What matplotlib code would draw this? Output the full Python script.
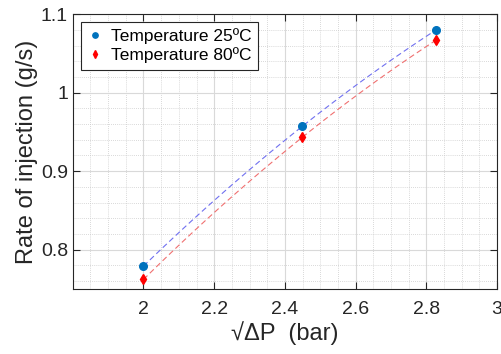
import numpy as np
import matplotlib.pyplot as plt
from matplotlib.ticker import MultipleLocator, FormatStrFormatter

plt.rcParams['font.family'] = ['Liberation Sans', 'DejaVu Sans']

# injection rate vs square root of pressure drop
sqrt_dp = np.array([2.0, 2.449, 2.828])
rate_25 = np.array([0.779, 0.957, 1.080])
rate_80 = np.array([0.762, 0.943, 1.067])

fig = plt.figure(figsize=(5.02, 3.54), dpi=100)
ax = fig.add_axes([0.145, 0.184, 0.845, 0.776])

# quadratic trend through each series
xx = np.linspace(sqrt_dp[0], sqrt_dp[-1], 100)
fit_25 = np.polyval(np.polyfit(sqrt_dp, rate_25, 2), xx)
fit_80 = np.polyval(np.polyfit(sqrt_dp, rate_80, 2), xx)
ax.plot(xx, fit_25, ls=(0, (5, 3)), color='#7070f0', lw=0.8)
ax.plot(xx, fit_80, ls=(0, (5, 3)), color='#f07070', lw=0.8)

ax.plot(sqrt_dp, rate_25, 'o', color='#0072BD', ms=5.5, label='Temperature 25ºC')
ax.plot(sqrt_dp, rate_80, 'd', color='#FF0000', ms=5.5, label='Temperature 80ºC')

ax.set_xlim(1.8, 3.0)
ax.set_ylim(0.75, 1.1)
ax.set_xticks([2, 2.2, 2.4, 2.6, 2.8, 3])
ax.set_yticks([0.8, 0.9, 1.0, 1.1])
ax.xaxis.set_major_formatter(FormatStrFormatter('%g'))
ax.yaxis.set_major_formatter(FormatStrFormatter('%g'))
ax.xaxis.set_minor_locator(MultipleLocator(0.05))
ax.yaxis.set_minor_locator(MultipleLocator(0.02))

ax.grid(True, which='major', color='#d9d9d9', lw=0.8, ls='-')
ax.grid(True, which='minor', color='#cccccc', lw=0.6, ls=(0, (1, 1.5)))
ax.set_axisbelow(True)

ax.tick_params(which='major', direction='in', length=5, width=0.8,
               top=True, right=True, labelsize=14, colors='#262626')
ax.tick_params(axis='x', which='major', pad=9)
ax.tick_params(which='minor', length=0)
for s in ax.spines.values():
    s.set_color('#262626')
    s.set_linewidth(0.8)

ax.set_xlabel('√ΔP  (bar)', fontsize=17, color='#262626', labelpad=2)
ax.set_ylabel('Rate of injection (g/s)', fontsize=17, color='#262626', labelpad=2)

leg = ax.legend(loc='upper left', fontsize=12.5, handletextpad=0.5,
                handlelength=0.9, borderpad=0.35, labelspacing=0.2,
                borderaxespad=0, fancybox=False, framealpha=1,
                edgecolor='#262626', markerscale=0.7,
                bbox_to_anchor=(0.019, 0.971))
leg.get_frame().set_linewidth(0.8)

fig.savefig('out.png', dpi=100)
